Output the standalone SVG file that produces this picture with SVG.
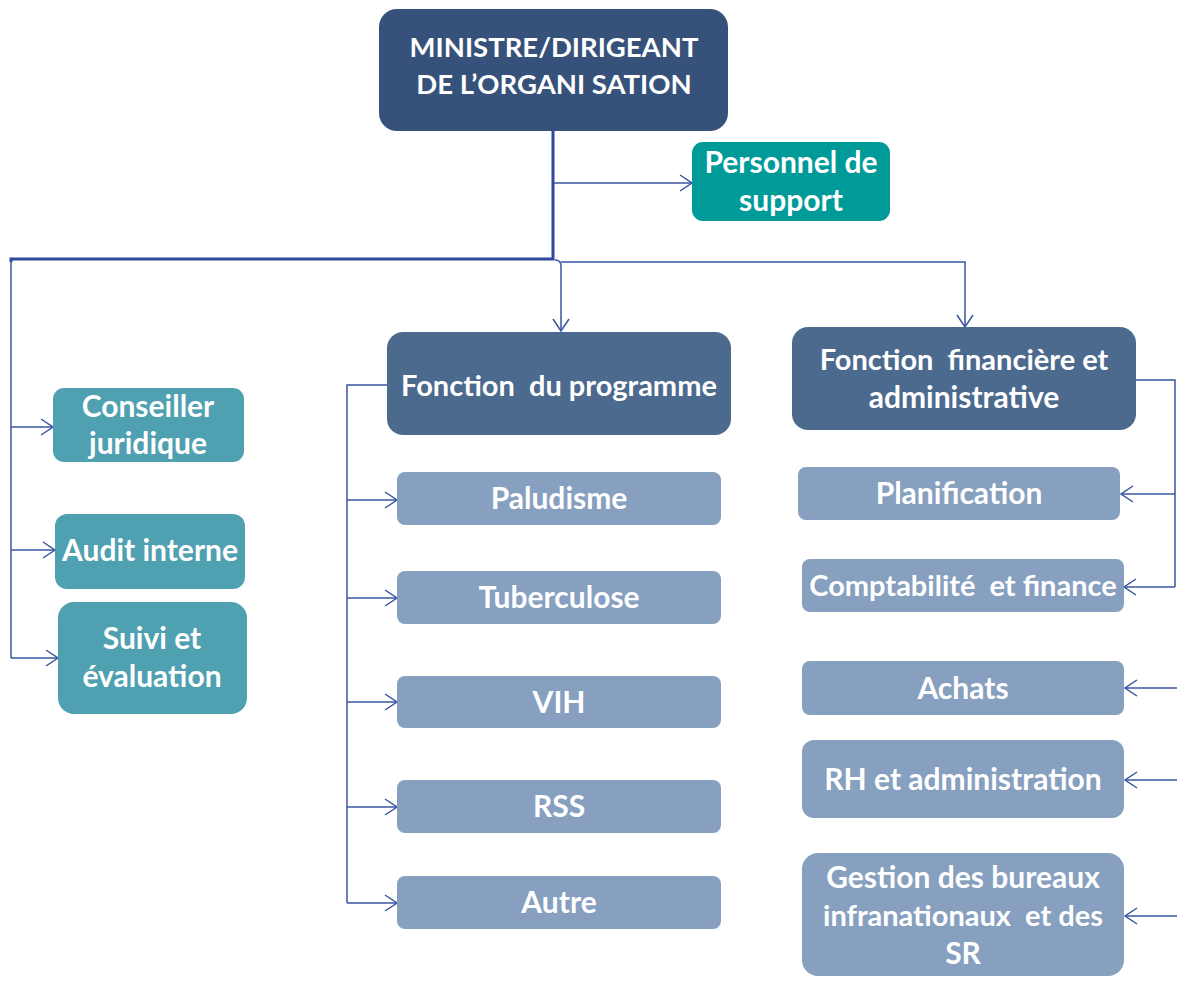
<svg xmlns="http://www.w3.org/2000/svg" width="1177" height="992" viewBox="0 0 1177 992">
  <defs>
    <marker id="arr" viewBox="0 0 14 18" refX="13" refY="9" markerWidth="14" markerHeight="18" markerUnits="userSpaceOnUse" orient="auto">
      <path d="M1,1 L13,9 L1,17" fill="none" stroke="#3A55A0" stroke-width="1.5"/>
    </marker>
    <style>
      .t { font-family: Lato, "Open Sans", "Liberation Sans", sans-serif; font-weight: bold; font-size: 30px; fill: #ffffff; text-anchor: middle; white-space: pre; }
      .t.h { font-size: 27.5px; }
      .t.s { font-size: 29px; }
      .head { fill: #36527A; }
      .fn { fill: #4C6A8E; }
      .sub { fill: #87A0BF; }
      .side { fill: #4FA0B0; }
      .sup { fill: #009B99; }
      .ln { fill: none; stroke: #3A55A0; stroke-width: 1.5; }
      .thick { fill: none; stroke: #2E4A9A; stroke-width: 3; }
    </style>
  </defs>
  <rect width="1177" height="992" fill="#ffffff"/>

  <!-- connectors -->
  <g id="connectors">
    <path class="thick" d="M553,131 V259 H11 V262"/>
    <path class="ln" d="M11,260 V658"/>
    <path class="ln" d="M11,427 H53" marker-end="url(#arr)"/>
    <path class="ln" d="M11,550 H55" marker-end="url(#arr)"/>
    <path class="ln" d="M11,658 H58" marker-end="url(#arr)"/>
    <path class="ln" d="M554,183 H692" marker-end="url(#arr)"/>
    <path class="ln" d="M555,260 Q561,260 561,266 V331" marker-end="url(#arr)"/>
    <path class="ln" d="M561,262 H965 V327" marker-end="url(#arr)"/>
    <!-- programme branch -->
    <path class="ln" d="M387,385 H347 V903"/>
    <path class="ln" d="M347,500 H397" marker-end="url(#arr)"/>
    <path class="ln" d="M347,598 H397" marker-end="url(#arr)"/>
    <path class="ln" d="M347,702 H397" marker-end="url(#arr)"/>
    <path class="ln" d="M347,807 H397" marker-end="url(#arr)"/>
    <path class="ln" d="M347,903 H397" marker-end="url(#arr)"/>
    <!-- finance branch -->
    <path class="ln" d="M1136,380 H1175 V587"/>
    <path class="ln" d="M1175,494 H1121" marker-end="url(#arr)"/>
    <path class="ln" d="M1175,587 H1124" marker-end="url(#arr)"/>
    <path class="ln" d="M1180,688 H1125" marker-end="url(#arr)"/>
    <path class="ln" d="M1180,780 H1125" marker-end="url(#arr)"/>
    <path class="ln" d="M1180,916 H1125" marker-end="url(#arr)"/>
  </g>

  <g id="ministre">
    <rect class="head" x="379" y="9" width="349" height="122" rx="18"/>
    <text class="t h" x="554" y="57">MINISTRE/DIRIGEANT</text>
    <text class="t h" x="554" y="94">DE L’ORGANI SATION</text>
  </g>

  <g id="personnel">
    <rect class="sup" x="692" y="142" width="198" height="79" rx="11"/>
    <text class="t" x="791" y="173">Personnel de</text>
    <text class="t" x="791" y="211">support</text>
  </g>

  <g id="conseiller">
    <rect class="side" x="53" y="388" width="191" height="74" rx="11"/>
    <text class="t" x="148" y="417">Conseiller</text>
    <text class="t" x="148" y="454">juridique</text>
  </g>

  <g id="audit">
    <rect class="side" x="55" y="514" width="190" height="75" rx="12"/>
    <text class="t" x="150" y="561">Audit interne</text>
  </g>

  <g id="suivi">
    <rect class="side" x="58" y="602" width="189" height="112" rx="16"/>
    <text class="t" x="152" y="649">Suivi et</text>
    <text class="t" x="152" y="687">évaluation</text>
  </g>

  <g id="programme">
    <rect class="fn" x="387" y="332" width="344" height="103" rx="16"/>
    <text class="t s" x="559" y="396">Fonction  du programme</text>
  </g>

  <g id="paludisme">
    <rect class="sub" x="397" y="472" width="324" height="53" rx="8"/>
    <text class="t" x="559" y="509">Paludisme</text>
  </g>
  <g id="tuberculose">
    <rect class="sub" x="397" y="571" width="324" height="53" rx="8"/>
    <text class="t" x="559" y="608">Tuberculose</text>
  </g>
  <g id="vih">
    <rect class="sub" x="397" y="676" width="324" height="52" rx="8"/>
    <text class="t" x="559" y="713">VIH</text>
  </g>
  <g id="rss">
    <rect class="sub" x="397" y="780" width="324" height="53" rx="8"/>
    <text class="t" x="559" y="817">RSS</text>
  </g>
  <g id="autre">
    <rect class="sub" x="397" y="876" width="324" height="53" rx="8"/>
    <text class="t" x="559" y="913">Autre</text>
  </g>

  <g id="finance">
    <rect class="fn" x="792" y="327" width="344" height="103" rx="16"/>
    <text class="t s" x="964" y="370">Fonction  financière et</text>
    <text class="t" x="964" y="408">administrative</text>
  </g>

  <g id="planification">
    <rect class="sub" x="798" y="467" width="322" height="53" rx="8"/>
    <text class="t" x="959" y="504">Planification</text>
  </g>
  <g id="comptabilite">
    <rect class="sub" x="802" y="559" width="322" height="53" rx="8"/>
    <text class="t s" x="963" y="596">Comptabilité  et finance</text>
  </g>
  <g id="achats">
    <rect class="sub" x="802" y="661" width="322" height="54" rx="8"/>
    <text class="t" x="963" y="699">Achats</text>
  </g>
  <g id="rh">
    <rect class="sub" x="802" y="740" width="322" height="78" rx="12"/>
    <text class="t" x="963" y="790">RH et administration</text>
  </g>
  <g id="gestion">
    <rect class="sub" x="802" y="853" width="322" height="123" rx="16"/>
    <text class="t" x="963" y="888">Gestion des bureaux</text>
    <text class="t s" x="963" y="926">infranationaux  et des</text>
    <text class="t" x="963" y="964">SR</text>
  </g>
</svg>
